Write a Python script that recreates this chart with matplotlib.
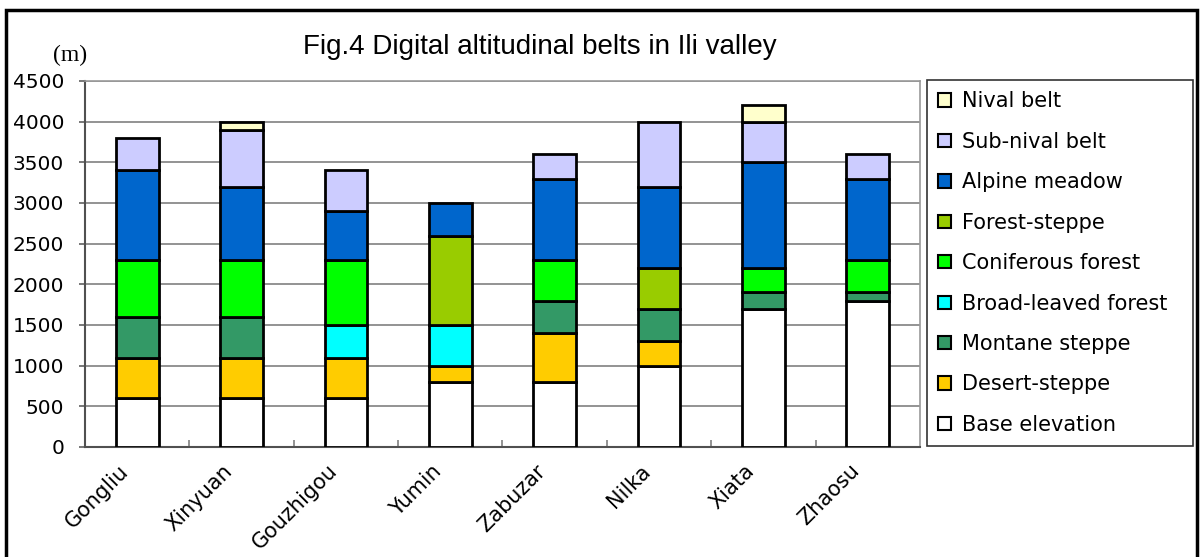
import matplotlib
matplotlib.use("Agg")
import matplotlib.pyplot as plt
import matplotlib.patches as patches
import matplotlib.transforms as mtransforms
import numpy as np

plt.rcParams['font.family'] = ['DejaVu Sans']

# sites along the valley
sites = ["Gongliu", "Xinyuan", "Gouzhigou", "Yumin", "Zabuzar", "Nilka", "Xiata", "Zhaosu"]

# thickness of each belt (m), bottom to top
base_elev = [600, 600, 600, 800, 800, 1000, 1700, 1800]
desert_steppe = [500, 500, 500, 200, 600, 300, 0, 0]
montane_steppe = [500, 500, 0, 0, 400, 400, 200, 100]
broad_leaved = [0, 0, 400, 500, 0, 0, 0, 0]
coniferous = [700, 700, 800, 0, 500, 0, 300, 400]
forest_steppe = [0, 0, 0, 1100, 0, 500, 0, 0]
alpine_meadow = [1100, 900, 600, 400, 1000, 1000, 1300, 1000]
sub_nival = [400, 700, 500, 0, 300, 800, 500, 300]
nival = [0, 100, 0, 0, 0, 0, 200, 0]

belt_names = ["Base elevation", "Desert-steppe", "Montane steppe", "Broad-leaved forest",
              "Coniferous forest", "Forest-steppe", "Alpine meadow", "Sub-nival belt", "Nival belt"]
belt_colors = ["#FFFFFF", "#FFCC00", "#339966", "#00FFFF",
               "#00FF00", "#99CC00", "#0066CC", "#CCCCFF", "#FFFFCC"]
belts = [base_elev, desert_steppe, montane_steppe, broad_leaved,
         coniferous, forest_steppe, alpine_meadow, sub_nival, nival]

y_ticks = list(range(0, 4501, 500))

fig = plt.figure(figsize=(12, 5.57), dpi=100)
ax = fig.add_axes([85 / 1200, 1 - 447 / 557, 835 / 1200, 366 / 557])

x = np.arange(len(sites))
bottom = np.zeros(len(sites))
for vals, col in zip(belts, belt_colors):
    vals = np.array(vals, dtype=float)
    keep = vals > 0
    ax.bar(x[keep], vals[keep], width=0.41, bottom=bottom[keep], color=col,
           edgecolor="black", linewidth=2, zorder=3)
    bottom += vals

ax.set_xlim(-0.5, len(sites) - 0.5)
ax.set_ylim(0, 4500)
ax.set_yticks(y_ticks)
ax.set_yticklabels([str(v) for v in y_ticks], fontsize=14.5)
ax.yaxis.grid(True, color="#808080", linewidth=1.2, zorder=0)
ax.set_axisbelow(True)

ax.set_xticks(x)
ax.set_xticklabels(sites, fontsize=15, rotation=45, ha="right", va="center",
                   rotation_mode="anchor")
ax.tick_params(axis="x", which="major", length=0, pad=15)
shift = mtransforms.ScaledTranslation(-12 / 100, 0, fig.dpi_scale_trans)
for lbl in ax.get_xticklabels():
    lbl.set_transform(lbl.get_transform() + shift)
ax.set_xticks(np.arange(0.5, len(sites) - 0.5, 1), minor=True)
ax.tick_params(axis="x", which="minor", direction="in", length=5, color="#808080", width=1.2)
ax.tick_params(axis="y", length=4, color="#606060", width=1.2, pad=11)

for side in ["top", "right"]:
    ax.spines[side].set_color("#999999")
    ax.spines[side].set_linewidth(1.2)
for side in ["left", "bottom"]:
    ax.spines[side].set_color("#505050")
    ax.spines[side].set_linewidth(1.5)

# title and unit
fig.text(540 / 1200, 1 - 47 / 557, "Fig.4 Digital altitudinal belts in Ili valley",
         fontsize=20, ha="center", va="center", family=["Liberation Sans", "DejaVu Sans"])
fig.text(70 / 1200, 1 - 55 / 557, "(m)", fontsize=17, ha="center", va="center",
         family=["Liberation Serif", "DejaVu Serif"])

# legend, top entry first
handles = [patches.Patch(facecolor=c, edgecolor="black", linewidth=1.5)
           for c in belt_colors[::-1]]
leg = fig.legend(handles, belt_names[::-1], loc="upper left",
                 bbox_to_anchor=(927 / 1200, 1 - 80 / 557 - 0.01, 266 / 1200, 0.01),
                 mode="expand", borderaxespad=0,
                 fontsize=15, frameon=True, fancybox=False, handlelength=0.6,
                 handleheight=0.6, handletextpad=0.55, labelspacing=0.98,
                 borderpad=0.55)
leg.get_frame().set_edgecolor("black")
leg.get_frame().set_linewidth(1.2)

# outer frame of the figure
frame = patches.Rectangle((6 / 1200, -0.05), 1191 / 1200, 1.05 - 10 / 557,
                          transform=fig.transFigure, fill=False,
                          edgecolor="black", linewidth=2.5)
fig.patches.append(frame)

fig.savefig("out.png", dpi=100)
